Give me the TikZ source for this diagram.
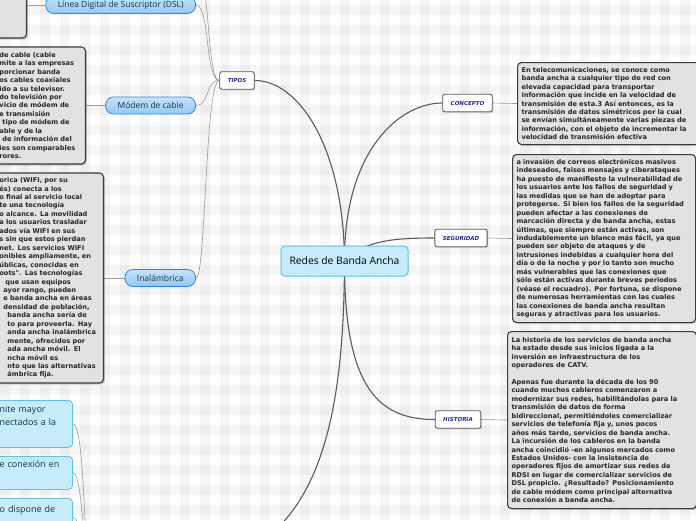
\documentclass[tikz,border=0pt]{standalone}
\usepackage{fontspec}
\setmainfont{Open Sans}
\newfontfamily\boxfont{DejaVu Sans}[BoldFont={DejaVu Sans Bold},ItalicFont={DejaVu Sans Oblique},BoldItalicFont={DejaVu Sans Bold Oblique}]
\usetikzlibrary{shadows,positioning}
\pgfdeclarelayer{grid}
\pgfdeclarelayer{links}
\pgfsetlayers{grid,links,main}
\definecolor{topicfill}{HTML}{C6EBFB}
\definecolor{topicline}{HTML}{5FC1EC}
\definecolor{pilltop}{HTML}{C4E3FC}
\definecolor{pillbot}{HTML}{93C8F6}
\definecolor{pillline}{HTML}{2E86E0}
\definecolor{pilltext}{HTML}{0E3A40}
\definecolor{notefill}{HTML}{E2E2E2}
\definecolor{noteline}{HTML}{3C3C3C}
\definecolor{notetext}{HTML}{262626}
\definecolor{tagtext}{HTML}{2424A8}
\definecolor{linkgray}{HTML}{9A9A9A}
\definecolor{branchgray}{HTML}{5A5A5A}

\begin{document}
\begin{tikzpicture}[x=1pt,y=-1pt,
    central/.style={draw=topicline, line width=1pt, fill=topicfill, rounded corners=4pt,
      minimum width=127pt, minimum height=30pt, font=\fontsize{10.3}{12}\selectfont},
    tag/.style={draw=branchgray, line width=0.9pt, fill=white, rounded corners=2pt,
      drop shadow={shadow xshift=1pt, shadow yshift=-1pt, opacity=.35},
      minimum height=17.5pt, inner xsep=8pt,
      font=\boxfont\bfseries\itshape\fontsize{5.5}{6}\selectfont, text=tagtext},
    pill/.style={draw=pillline, line width=0.8pt, top color=pilltop, bottom color=pillbot,
      rounded corners=8pt, minimum height=17pt, inner xsep=12pt, anchor=east,
      font=\fontsize{8.5}{10}\selectfont, text=pilltext},
    note/.style={draw=noteline, line width=1.1pt, fill=notefill, rounded corners=4pt,
      drop shadow={shadow xshift=1.5pt, shadow yshift=-1.5pt, opacity=.4},
      align=left, inner xsep=4pt, inner ysep=4pt,
      font=\boxfont\bfseries\fontsize{6.6}{8.45}\selectfont, text=notetext},
    idea/.style={draw=topicline, line width=0.8pt, fill=topicfill, rounded corners=4pt,
      align=left, inner xsep=5pt, anchor=north east,
      font=\fontsize{9}{13}\selectfont, text=pilltext},
    branch/.style={draw=branchgray, line width=1.1pt},
    twig/.style={draw=linkgray, line width=0.6pt}
  ]
  \path[use as bounding box] (0,0) rectangle (696,520);
  \clip (0,0) rectangle (696,520);

  % plaid background
  \begin{pgfonlayer}{grid}
    \fill[white] (0,0) rectangle (696,520);
    \foreach \x in {0,20,...,680}
      \fill[black, opacity=0.035] (\x,0) rectangle +(10,520);
    \foreach \y in {5,25,...,505}
      \fill[black, opacity=0.035] (0,\y) rectangle +(696,10);
  \end{pgfonlayer}

  % main topic and its branches
  \node[central] (redes) at (344.5,261) {Redes de Banda Ancha};
  \node[tag] (tipos) at (237,80.5) {TIPOS};
  \node[tag] (concepto) at (467.5,103) {CONCEPTO};
  \node[tag] (seguridad) at (461,238) {SEGURIDAD};
  \node[tag] (historia) at (458,419.5) {HISTORIA};
  \coordinate (lowhub) at (140,575);
  \coordinate (lowleft) at (88,585);
  \coordinate (tipostop) at (190,-45);

  % notes on the right
  \node[note, anchor=north west, text width=185pt, minimum height=82pt] (conceptonote) at (517,62) {%
    En telecomunicaciones, se conoce como\\
    banda ancha a cualquier tipo de red con\\
    elevada capacidad para transportar\\
    información que incide en la velocidad de\\
    transmisión de esta.3 Así entonces, es la\\
    transmisión de datos simétricos por la cual\\
    se envían simultáneamente varias piezas de\\
    información, con el objeto de incrementar la\\
    velocidad de transmisión efectiva};
  \node[note, anchor=north west, text width=175pt, minimum height=168pt] (seguridadnote) at (512,154) {%
    a invasión de correos electrónicos masivos\\
    indeseados, falsos mensajes y ciberataques\\
    ha puesto de manifiesto la vulnerabilidad de\\
    los usuarios ante los fallos de seguridad y\\
    las medidas que se han de adoptar para\\
    protegerse. Si bien los fallos de la seguridad\\
    pueden afectar a las conexiones de\\
    marcación directa y de banda ancha, estas\\
    últimas, que siempre están activas, son\\
    indudablemente un blanco más fácil, ya que\\
    pueden ser objeto de ataques y de\\
    intrusiones indebidas a cualquier hora del\\
    día o de la noche y por lo tanto son mucho\\
    más vulnerables que las conexiones que\\
    sólo están activas durante breves periodos\\
    (véase el recuadro). Por fortuna, se dispone\\
    de numerosas herramientas con las cuales\\
    las conexiones de banda ancha resultan\\
    seguras y atractivas para los usuarios.};
  \node[note, anchor=north west, text width=181pt, minimum height=177pt] (historianote) at (507,331) {%
    La historia de los servicios de banda ancha\\
    ha estado desde sus inicios ligada a la\\
    inversión en infraestructura de los\\
    operadores de CATV.\\[8.45pt]
    Apenas fue durante la década de los 90\\
    cuando muchos cableros comenzaron a\\
    modernizar sus redes, habilitándolas para la\\
    transmisión de datos de forma\\
    bidireccional, permitiéndoles comercializar\\
    servicios de telefonía fija y, unos pocos\\
    años más tarde, servicios de banda ancha.\\
    La incursión de los cableros en la banda\\
    ancha coincidió -en algunos mercados como\\
    Estados Unidos- con la insistencia de\\
    operadores fijos de amortizar sus redes de\\
    RDSI en lugar de comercializar servicios de\\
    DSL propicio. ¿Resultado? Posicionamiento\\
    de cable módem como principal alternativa\\
    de conexión a banda ancha.};

  % TIPOS and its children
  \node[pill] (dsl) at (196,5) {Línea Digital de Suscriptor (DSL)};
  \node[pill] (modem) at (196,105.5) {Módem de cable};
  \node[pill] (inalambrica) at (196,278) {Inalámbrica};
  \node[note, anchor=east, minimum width=150pt, minimum height=66pt] (dslnote) at (27,5) {};
  \node[note, anchor=east, text width=82pt, minimum height=117pt] (modemnote) at (86,105.5) {%
    de cable (cable\\
    mite a las empresas\\
    porcionar banda\\
    os cables coaxiales\\
    ido a su televisor.\\
    do televisión por\\
    vicio de módem de\\
    e transmisión\\
    \hspace*{3pt}tipo de módem de\\
    able y de la\\
    \hspace*{3pt}de información del\\
    ies son comparables\\
    rores.};
  \node[note, anchor=east, text width=100pt, minimum height=210pt] (wifinote) at (104,278) {%
    orica (WIFI, por su\\
    és) conecta a los\\
    o final al servicio local\\
    te una tecnología\\
    o alcance. La movilidad\\
    a los usuarios trasladar\\
    ados vía WIFI en sus\\
    s sin que estos pierdan\\
    net. Los servicios WIFI\\
    onibles ampliamente, en\\
    úblicas, conocidas en\\
    oots". Las tecnologías\\
    \hspace*{6pt}que usan equipos\\
    \hspace*{4pt}ayor rango, pueden\\
    \hspace*{4pt}e banda ancha en áreas\\
    \hspace*{4pt}densidad de población,\\
    \hspace*{8pt}banda ancha sería de\\
    \hspace*{8pt}to para proveerla. Hay\\
    \hspace*{8pt}anda ancha inalámbrica\\
    \hspace*{8pt}mente, ofrecidos por\\
    \hspace*{8pt}ada ancha móvil. El\\
    \hspace*{8pt}ncha móvil es\\
    \hspace*{8pt}nto que las alternativas\\
    \hspace*{8pt}ámbrica fija.};

  % ideas of the hidden lower branch
  \node[idea, text width=68pt, minimum height=47pt] (idea1) at (73,400) {nite mayor\\nectados a la\\\strut};
  \node[idea, text width=68pt, minimum height=33pt] (idea2) at (73,456) {e conexión en\\\strut};
  \node[idea, text width=68pt, minimum height=38pt] (idea3) at (73,498) {o dispone de\\\strut};

  \begin{pgfonlayer}{links}
    \draw[branch] (redes.center) .. controls (344,150) and (300,80.5) .. (tipos.east);
    \draw[branch] (redes.center) .. controls (344,150) and (400,103) .. (concepto.west);
    \draw[branch] (redes.center) .. controls (365,240) and (395,238) .. (seguridad.west);
    \draw[branch] (redes.center) .. controls (344,390) and (380,419.5) .. (historia.west);
    \draw[branch] (redes.center) .. controls (344,470) and (300,575) .. (lowhub);

    \draw[twig] (tipos.west) .. controls (205,80.5) and (210,5) .. (dsl.east);
    \draw[twig] (tipos.west) .. controls (205,80.5) and (212,-45) .. (tipostop);
    \draw[twig] (tipos.west) .. controls (205,80.5) and (210,105.5) .. (modem.east);
    \draw[twig] (tipos.west) .. controls (205,80.5) and (206,278) .. (inalambrica.east);
    \draw[twig] (dslnote.east) -- (dsl.west);
    \draw[twig] (modemnote.east) -- (modem.west);
    \draw[twig] (wifinote.east) -- (inalambrica.west);
    \draw[twig] (concepto.east) -- (conceptonote.west);
    \draw[twig] (seguridad.east) -- (seguridadnote.west);
    \draw[twig] (historia.east) -- (historianote.west);

    \draw[twig] (idea1.east) .. controls (82,423.5) and (84,500) .. (lowleft);
    \draw[twig] (idea2.east) .. controls (80,472.5) and (83,520) .. (lowleft);
    \draw[twig] (idea3.east) .. controls (79,517) and (82,540) .. (lowleft);
  \end{pgfonlayer}
\end{tikzpicture}
\end{document}
